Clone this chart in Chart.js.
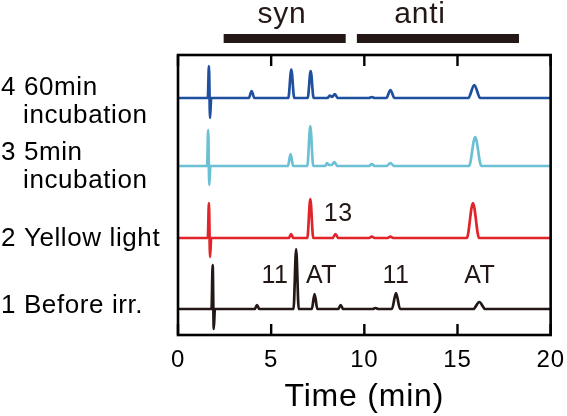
<!DOCTYPE html>
<html>
<head>
<meta charset="utf-8">
<script src="https://cdn.jsdelivr.net/npm/chart.js@4/dist/chart.umd.min.js"></script>
<style>
html,body{margin:0;padding:0;background:#fff;}
#wrap{width:567px;height:416px;position:relative;}
</style>
</head>
<body>
<div id="wrap"><canvas id="c" width="567" height="416"></canvas></div>
<script>
// ---- data ----
const traceNames = ["4 60min incubation", "3 5min incubation", "2 Yellow light", "1 Before irr."];
const xTicks = [0, 5, 10, 15, 20];

// trace 4: 60 min incubation
const time4 = [0, 1.60, 1.66, 1.72, 1.78, 3.80, 3.95, 4.10, 5.92, 6.08, 6.24, 6.96, 7.12, 7.28, 8.02, 8.15, 8.27, 8.42, 8.57, 10.25, 10.4, 10.55, 11.18, 11.4, 11.62, 15.58, 15.9, 16.22, 20];
const signal4 = [0, 0, 32, -20, 0, 0, 7, 0, 0, 28.5, 0, 0, 27, 0, 0, 2.5, 1, 4, 0, 0, 1, 0, 0, 8, 0, 0, 13, 0, 0];
// trace 3: 5 min incubation
const time3 = [0, 1.56, 1.62, 1.68, 1.74, 5.90, 6.04, 6.18, 6.94, 7.10, 7.26, 7.90, 8.0, 8.1, 8.25, 8.4, 8.55, 10.25, 10.4, 10.55, 11.2, 11.4, 11.6, 15.62, 15.95, 16.28, 20];
const signal3 = [0, 0, 36, -19, 0, 0, 12, 0, 0, 40, 0, 0, 3, 1, 1, 4, 0, 0, 2, 0, 0, 3, 0, 0, 29, 0, 0];
// trace 2: yellow light
const time2 = [0, 1.60, 1.66, 1.72, 1.78, 5.95, 6.07, 6.19, 6.94, 7.10, 7.26, 8.3, 8.45, 8.6, 10.25, 10.4, 10.55, 11.25, 11.4, 11.55, 15.5, 15.83, 16.16, 20];
const signal2 = [0, 0, 35, -19, 0, 0, 4, 0, 0, 39, 0, 0, 4, 0, 0, 1.5, 0, 0, 1.5, 0, 0, 35, 0, 0];
// trace 1: before irradiation
const time1 = [0, 1.80, 1.86, 1.92, 1.98, 4.12, 4.24, 4.36, 6.20, 6.34, 6.48, 7.18, 7.33, 7.48, 8.6, 8.73, 8.86, 10.45, 10.6, 10.75, 11.48, 11.7, 11.92, 15.85, 16.17, 16.49, 20];
const signal1 = [0, 0, 44, -20, 0, 0, 4, 0, 0, 60, 0, 0, 15, 0, 0, 4, 0, 0, 1, 0, 0, 16, 0, 0, 7, 0, 0];

// vertical stacking offsets of the traces (signal units)
const offsets = [237, 169, 97, 26];

// syn / anti retention-time ranges (min)
const synRange = [2.45, 9.0];
const antiRange = [9.6, 18.3];

// peak labels: text, time, signal level (chart units)
const peakLabels = [
  {text: "13", t: 8.6, y: 114},
  {text: "11", t: 5.2, y: 52},
  {text: "AT", t: 7.7, y: 52},
  {text: "11", t: 11.7, y: 52},
  {text: "AT", t: 16.2, y: 52}
];

// ---- build datasets ----
const colors = ["#1f4f9f", "#6cc0d4", "#e1242a", "#231815"];
const times = [time4, time3, time2, time1];
const signals = [signal4, signal3, signal2, signal1];
const FONT = "'Liberation Sans', Arial, Helvetica, sans-serif";

const datasets = times.map((tArr, i) => ({
  label: traceNames[i],
  data: tArr.map((t, k) => ({x: t, y: signals[i][k] + offsets[i]})),
  borderColor: colors[i],
  borderWidth: 2.7,
  pointRadius: 0,
  cubicInterpolationMode: 'monotone',
  fill: false
}));

const spacing = {
  id: 'spacing',
  beforeInit(chart) { chart.ctx.letterSpacing = '0.8px'; },
  beforeDraw(chart) { chart.ctx.letterSpacing = '0.8px'; }
};

const overlay = {
  id: 'overlay',
  afterDraw(chart) {
    const ctx = chart.ctx;
    const a = chart.chartArea;
    const xs = chart.scales.x, ys = chart.scales.y;
    ctx.save();
    // frame
    ctx.strokeStyle = '#000';
    ctx.lineWidth = 2.6;
    ctx.strokeRect(a.left, a.top, a.right - a.left, a.bottom - a.top);
    // inward ticks top and bottom
    ctx.lineWidth = 2.4;
    xTicks.forEach(v => {
      const px = xs.getPixelForValue(v);
      ctx.beginPath();
      ctx.moveTo(px, a.top); ctx.lineTo(px, a.top + 11);
      ctx.moveTo(px, a.bottom); ctx.lineTo(px, a.bottom - 11);
      ctx.stroke();
    });
    // syn / anti bars
    ctx.fillStyle = '#231815';
    [synRange, antiRange].forEach(r => {
      const x0 = xs.getPixelForValue(r[0]), x1 = xs.getPixelForValue(r[1]);
      ctx.fillRect(x0, 34, x1 - x0, 9);
    });
    ctx.fillStyle = '#231815';
    ctx.letterSpacing = '0.8px';
    ctx.font = '30px ' + FONT;
    ctx.textAlign = 'center';
    ctx.textBaseline = 'alphabetic';
    ctx.fillText('syn', 282, 23);
    ctx.fillText('anti', 420, 23);
    // peak labels
    ctx.letterSpacing = '0.5px';
    ctx.font = '25px ' + FONT;
    ctx.fillStyle = '#231815';
    peakLabels.forEach(p => {
      ctx.fillText(p.text, xs.getPixelForValue(p.t), ys.getPixelForValue(p.y));
    });
    // trace names on the left
    ctx.textAlign = 'left';
    ctx.letterSpacing = '0.6px';
    ctx.font = '26px ' + FONT;
    ctx.fillStyle = '#000';
    ctx.fillText('4 60min', 1, 95);
    ctx.fillText('incubation', 23, 123);
    ctx.fillText('3 5min', 1, 160);
    ctx.fillText('incubation', 23, 188);
    ctx.fillText('2 Yellow light', 1, 246);
    ctx.fillText('1 Before irr.', 1, 313);
    ctx.restore();
  }
};

new Chart(document.getElementById('c'), {
  type: 'line',
  data: {datasets},
  options: {
    responsive: false,
    animation: false,
    devicePixelRatio: 1,
    layout: {padding: {left: 178, right: 10, top: 55, bottom: 0}},
    plugins: {legend: {display: false}, tooltip: {enabled: false}},
    scales: {
      x: {
        type: 'linear', min: 0, max: 20,
        afterBuildTicks: s => { s.ticks = xTicks.map(v => ({value: v})); },
        ticks: {font: {family: FONT, size: 24}, color: '#000', padding: 3, maxRotation: 0},
        grid: {display: false},
        border: {display: false},
        title: {display: true, text: 'Time (min)', color: '#000', font: {family: FONT, size: 32}, padding: {top: 0, bottom: 0}},
        afterFit: s => { s.height = 81; }
      },
      y: {
        display: false, min: 0, max: 280
      }
    }
  },
  plugins: [spacing, overlay]
});
</script>
</body>
</html>
